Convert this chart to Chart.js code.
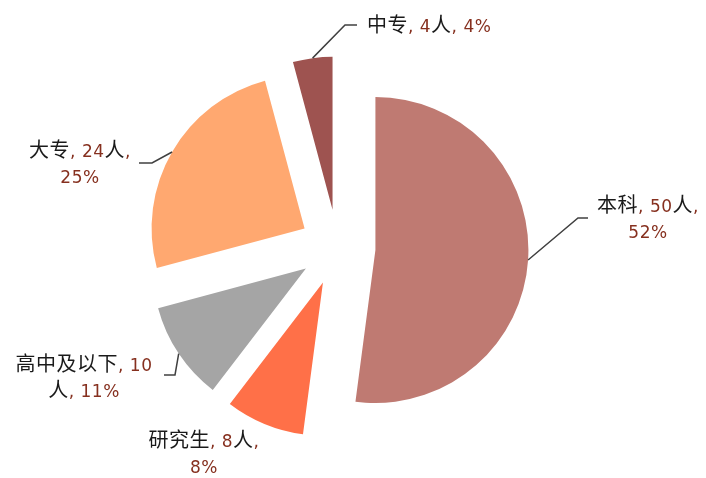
<!DOCTYPE html>
<html lang="zh">
<head>
<meta charset="UTF-8">
<title>学历分布</title>
<script src="https://cdn.jsdelivr.net/npm/chart.js"></script>
<style>
  html, body { margin: 0; padding: 0; background: #fff; }
  #wrap { width: 706px; height: 478px; }
</style>
</head>
<body>
<div id="wrap"><canvas id="pieChart"></canvas></div>
<script>
const categories = ['本科', '研究生', '高中及以下', '大专', '中专'];
const counts = [50, 8, 10, 24, 4];
const percentLabels = ['52%', '8%', '11%', '25%', '4%'];
const sliceColors = ['#BF7A72', '#FF7048', '#A5A5A5', '#FFA870', '#9E5350'];

// where each label sits (x = centre or left edge, y = first baseline), where it wraps, leader line
const labelLayout = [
  { x: 648, y: 212, align: 'center', wrapAt: 8, elbow: [578, 218], end: [588, 218] },
  { x: 204, y: 447, align: 'center', wrapAt: 8 },
  { x: 84, y: 371, align: 'center', wrapAt: 9, elbow: [175, 375], end: [164, 375] },
  { x: 80, y: 157, align: 'center', wrapAt: 8, elbow: [152, 163], end: [139, 163] },
  { x: 367, y: 32, align: 'left', elbow: [345, 25], end: [357, 25] }
];

const explode = 38;
const lineH = 26;
const nameColor = '#1a1a1a';
const valueColor = '#86301F';
const cjkFont = '20px "Noto Sans CJK SC", sans-serif';
const latinFont = '17px "DejaVu Sans", sans-serif';
const isCJK = s => /[\u4e00-\u9fff]/.test(s);

// pull every slice out along its own middle angle, like an exploded Excel pie
const explodePlugin = {
  id: 'explode',
  afterDatasetUpdate(chart, args) {
    args.meta.data.forEach(arc => {
      const mid = (arc.startAngle + arc.endAngle) / 2;
      arc.x += Math.cos(mid) * explode;
      arc.y += Math.sin(mid) * explode;
    });
  }
};

const labelPlugin = {
  id: 'sliceLabels',
  afterDatasetsDraw(chart) {
    const ctx = chart.ctx;
    const arcs = chart.getDatasetMeta(0).data;
    ctx.save();
    ctx.textBaseline = 'alphabetic';
    ctx.letterSpacing = '0.5px';
    ctx.strokeStyle = '#404040';
    ctx.lineWidth = 1.5;
    const runWidth = r => {
      ctx.font = isCJK(r) ? cjkFont : latinFont;
      return ctx.measureText(r).width;
    };
    arcs.forEach((arc, i) => {
      const lay = labelLayout[i];
      const mid = (arc.startAngle + arc.endAngle) / 2;
      if (lay.elbow) {
        ctx.beginPath();
        ctx.moveTo(arc.x + Math.cos(mid) * arc.outerRadius, arc.y + Math.sin(mid) * arc.outerRadius);
        ctx.lineTo(lay.elbow[0], lay.elbow[1]);
        ctx.lineTo(lay.end[0], lay.end[1]);
        ctx.stroke();
      }
      const full = categories[i] + ', ' + counts[i] + '人, ' + percentLabels[i];
      const lines = lay.wrapAt ? [full.slice(0, lay.wrapAt), full.slice(lay.wrapAt).trim()] : [full];
      lines.forEach((txt, li) => {
        // CJK characters come out black, digits and punctuation dark red
        const runs = txt.match(/[\u4e00-\u9fff]+|[^\u4e00-\u9fff]+/g);
        const w = runs.reduce((s, r) => s + runWidth(r), 0);
        let x = lay.align === 'left' ? lay.x : lay.x - w / 2;
        const y = lay.y + li * lineH;
        runs.forEach(r => {
          const rw = runWidth(r);
          ctx.fillStyle = isCJK(r) ? nameColor : valueColor;
          ctx.fillText(r, x, y);
          x += rw;
        });
      });
    });
    ctx.restore();
  }
};

new Chart(document.getElementById('pieChart'), {
  type: 'pie',
  data: {
    labels: categories,
    datasets: [{
      data: counts,
      backgroundColor: sliceColors,
      borderWidth: 0
    }]
  },
  options: {
    responsive: true,
    maintainAspectRatio: false,
    animation: false,
    events: [],
    radius: 153,
    layout: { padding: { left: 0, right: 31, top: 17, bottom: 0 } },
    plugins: {
      legend: { display: false },
      tooltip: { enabled: false }
    }
  },
  plugins: [explodePlugin, labelPlugin]
});
</script>
</body>
</html>
